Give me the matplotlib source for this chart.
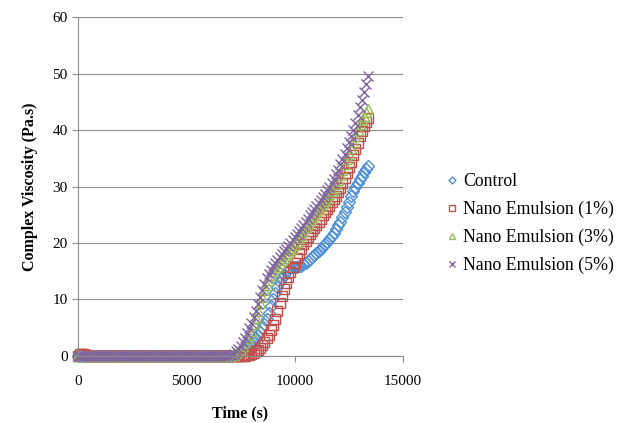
import matplotlib
matplotlib.use("Agg")
import matplotlib.pyplot as plt

plt.rcParams['font.family'] = ['Liberation Serif', 'DejaVu Serif']

# time grid (s), one reading every 100 s
time_s = list(range(0, 13500, 100))

# Control
control = [
    0, 0, 0, 0, 0, 0, 0, 0, 0, 0, 0, 0, 0, 0, 0, 0, 0, 0, 0, 0,
    0, 0, 0, 0, 0, 0, 0, 0, 0, 0, 0, 0, 0, 0, 0, 0, 0, 0, 0, 0,
    0, 0, 0, 0, 0, 0, 0, 0, 0, 0, 0, 0, 0, 0, 0, 0, 0, 0, 0, 0,
    0, 0, 0, 0, 0, 0, 0, 0, 0, 0, 0,
    0.05, 0.1, 0.2, 0.3, 0.5, 0.8, 1.1, 1.5, 1.9, 2.3,
    2.7, 3.2, 3.7, 4.3, 4.9, 5.6, 6.5, 7.6, 8.8, 10.0,
    11.2, 12.2, 13.1, 13.8, 14.4, 14.9, 15.2, 15.5, 15.7, 15.8,
    15.8, 15.9, 16.0, 16.2, 16.5, 16.8, 17.2, 17.6, 17.9, 18.3,
    18.6, 19.0, 19.4, 19.8, 20.2, 20.7, 21.2, 21.8, 22.4, 23.1,
    23.8, 24.6, 25.4, 26.3, 27.3, 28.3, 29.2, 30.0, 30.7, 31.3,
    31.9, 32.5, 33.1, 33.6,
]

# Nano Emulsion (1%)
ne1 = [
    0, 0.3, 0.4, 0.4, 0.2, 0, 0, 0, 0, 0, 0, 0, 0, 0, 0, 0, 0, 0, 0, 0,
    0, 0, 0, 0, 0, 0, 0, 0, 0, 0, 0, 0, 0, 0, 0, 0, 0, 0, 0, 0,
    0, 0, 0, 0, 0, 0, 0, 0, 0, 0, 0, 0, 0, 0, 0, 0, 0, 0, 0, 0,
    0, 0, 0, 0, 0, 0, 0, 0, 0, 0, 0, 0, 0, 0, 0, 0, 0,
    0.05, 0.1, 0.2, 0.3, 0.5, 0.8, 1.1, 1.5, 2.0, 2.5,
    3.1, 3.8, 4.6, 5.4, 6.6, 8.0, 9.3, 10.6, 11.8, 13.0,
    13.9, 14.8, 15.7, 16.5, 17.4, 18.2, 19.0, 19.8, 20.4, 21.0,
    21.6, 22.1, 22.7, 23.2, 23.8, 24.3, 24.9, 25.4, 26.0, 26.6,
    27.2, 27.8, 28.4, 29.1, 29.8, 30.6, 31.5, 32.4, 33.4, 34.4,
    35.5, 36.6, 37.7, 38.9, 39.8, 40.7, 41.5, 42.2,
]

# Nano Emulsion (3%)
ne3 = [
    0, 0, 0, 0, 0, 0, 0, 0, 0, 0, 0, 0, 0, 0, 0, 0, 0, 0, 0, 0,
    0, 0, 0, 0, 0, 0, 0, 0, 0, 0, 0, 0, 0, 0, 0, 0, 0, 0, 0, 0,
    0, 0, 0, 0, 0, 0, 0, 0, 0, 0, 0, 0, 0, 0, 0, 0, 0, 0, 0, 0,
    0, 0, 0, 0, 0, 0, 0, 0, 0, 0,
    0.0, 0.1, 0.2, 0.5, 0.8, 1.3, 1.8, 2.5, 3.2, 3.8,
    4.5, 5.6, 6.8, 8.0, 9.3, 10.5, 11.6, 12.6, 13.5, 14.3,
    15.0, 15.5, 16.0, 16.5, 17.0, 17.4, 17.8, 18.3, 18.7, 19.2,
    19.6, 20.2, 20.9, 21.5, 22.2, 22.8, 23.3, 23.9, 24.4, 25.0,
    25.5, 26.0, 26.5, 27.0, 27.5, 28.0, 28.6, 29.2, 29.8, 30.5,
    31.2, 32.1, 33.0, 33.9, 34.8, 35.8, 36.8, 37.9, 39.0, 40.0,
    41.0, 41.8, 42.5, 43.2, 43.8,
]

# Nano Emulsion (5%)
ne5 = [
    0, 0, 0, 0, 0, 0, 0, 0, 0, 0, 0, 0, 0, 0, 0, 0, 0, 0, 0, 0,
    0, 0, 0, 0, 0, 0, 0, 0, 0, 0, 0, 0, 0, 0, 0, 0, 0, 0, 0, 0,
    0, 0, 0, 0, 0, 0, 0, 0, 0, 0, 0, 0, 0, 0, 0, 0, 0, 0, 0, 0,
    0, 0, 0, 0, 0, 0, 0, 0,
    0.0, 0.05, 0.1, 0.2, 0.4, 0.8, 1.2, 1.8, 2.5, 3.2,
    4.0, 4.9, 5.8, 6.9, 8.0, 9.2, 10.5, 11.7, 12.8, 13.8,
    14.6, 15.3, 15.9, 16.5, 17.0, 17.5, 18.0, 18.5, 19.0, 19.5,
    20.0, 20.5, 21.0, 21.6, 22.1, 22.7, 23.2, 23.8, 24.3, 24.9,
    25.4, 26.0, 26.5, 27.1, 27.6, 28.2, 28.7, 29.3, 30.0, 30.7,
    31.4, 32.2, 33.0, 33.9, 34.8, 35.8, 36.8, 37.8, 38.9, 40.0,
    41.3, 42.6, 44.0, 45.3, 46.7, 48.1, 49.5,
]

series = [
    ("Control", control, "D", "#4a8fd6", 6),
    ("Nano Emulsion (1%)", ne1, "s", "#c0504d", 7.5),
    ("Nano Emulsion (3%)", ne3, "^", "#9bbb59", 7.5),
    ("Nano Emulsion (5%)", ne5, "x", "#8064a2", 7.5),
]

fig = plt.figure(figsize=(6.21, 4.23), dpi=100)
ax = fig.add_axes([0.1256, 0.1584, 0.5234, 0.8014])

for label, vals, mk, col, ms in series:
    if mk == "x":
        ax.plot(time_s, vals, linestyle="none", marker=mk, color=col,
                markersize=ms, markeredgewidth=1.0, label=label, clip_on=False)
    else:
        ax.plot(time_s, vals, linestyle="none", marker=mk, markerfacecolor="none",
                markeredgecolor=col, markersize=ms, markeredgewidth=1.0, label=label,
                clip_on=False)

ax.set_xlim(0, 15000)
ax.set_ylim(0, 60)
ax.set_xticks([0, 5000, 10000, 15000])
ax.set_yticks(range(0, 61, 10))
ax.yaxis.grid(True, color="#8c8c8c", linewidth=0.8)
ax.set_axisbelow(True)
for s in ("top", "right"):
    ax.spines[s].set_visible(False)
for s in ("left", "bottom"):
    ax.spines[s].set_color("#8c8c8c")
ax.tick_params(axis="both", colors="#8c8c8c", labelcolor="black", labelsize=11,
               length=4, direction="out")
ax.tick_params(axis="x", pad=10)

ax.set_xlabel("Time (s)", fontsize=11.5, fontweight="bold", labelpad=12)
ax.set_ylabel("Complex Viscosity (Pa.s)", fontsize=11.5, fontweight="bold", labelpad=10)

leg = fig.legend(loc="center left", bbox_to_anchor=(0.694, 0.471), frameon=False,
                 fontsize=12.8, handlelength=0.6, handletextpad=0.3,
                 labelspacing=0.6, markerscale=0.6)

fig.savefig("out.png", dpi=100)
